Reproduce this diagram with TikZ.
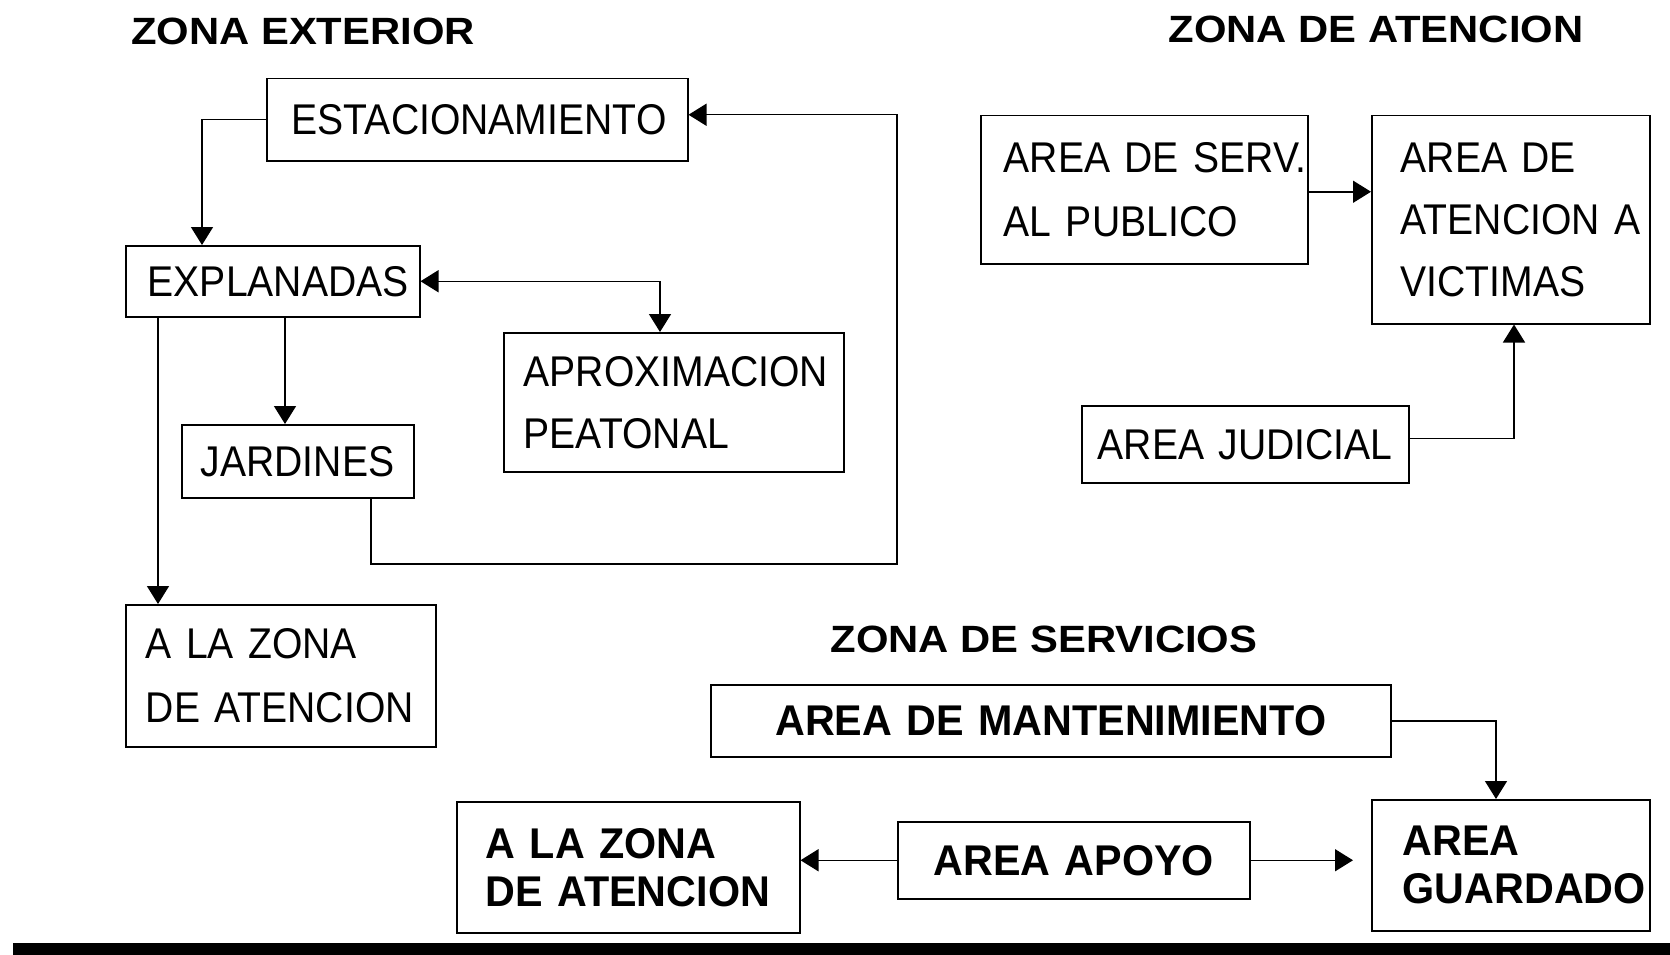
\documentclass[tikz,border=0pt]{standalone}
\usepackage{fontspec}
\usetikzlibrary{arrows.meta}
\newfontfamily\thinf[FakeStretch=0.91]{Liberation Sans}
\newfontfamily\boldf[FakeStretch=0.96]{Liberation Sans}
\newfontfamily\titlef[FakeStretch=1.1]{Liberation Sans}
\begin{document}
\begin{tikzpicture}[x=1pt,y=-1pt,
  box/.style={draw, line width=1.5pt, rectangle, anchor=north west, align=left, inner ysep=0pt},
  thintxt/.style={font=\thinf\fontsize{43}{62}\selectfont},
  boldtxt/.style={font=\boldf\bfseries\fontsize{43}{48}\selectfont},
  ttl/.style={font=\titlef\bfseries\fontsize{38}{44}\selectfont, inner sep=0pt},
  conn/.style={line width=1.5pt},
  arr/.style={conn, -{Triangle[length=18pt,width=22pt]}},
  darr/.style={conn, {Triangle[length=18pt,width=22pt]}-{Triangle[length=18pt,width=22pt]}}]
\useasboundingbox (0,0) rectangle (1670,955);
% titles
\node[ttl] (t1) at (303,31) {ZONA EXTERIOR};
\node[ttl] (t2) at (1376,29) {ZONA DE ATENCION};
\node[ttl] (t3) at (1044,639) {ZONA DE SERVICIOS};
% zona exterior
\node[box, thintxt, minimum width=421pt, minimum height=82pt, inner xsep=25pt, text width=371pt] (est) at (266,78) {ESTACIONAMIENTO};
\node[box, thintxt, minimum width=294pt, minimum height=71pt, inner xsep=22pt, text width=250pt] (expl) at (125,245) {EXPLANADAS};
\node[box, thintxt, minimum width=340pt, minimum height=139pt, inner xsep=20pt, text width=300pt] (aprox) at (503,332) {APROXIMACION\\PEATONAL};
\node[box, thintxt, minimum width=232pt, minimum height=73pt, inner xsep=19pt, text width=194pt] (jard) at (181,424) {JARDINES};
\node[box, thintxt, minimum width=310pt, minimum height=142pt, inner xsep=20pt, text width=270pt, font=\thinf\fontsize{43}{64}\selectfont] (zona1) at (125,604) {A~LA~ZONA\\DE~ATENCION};
% zona de atencion
\node[box, thintxt, minimum width=327pt, minimum height=148pt, inner xsep=23pt, text width=281pt, font=\thinf\fontsize{43}{64}\selectfont] (serv) at (980,115) {AREA~DE~SERV.\\AL~PUBLICO};
\node[box, thintxt, minimum width=278pt, minimum height=208pt, inner xsep=29pt, text width=220pt] (aten) at (1371,115) {AREA~DE\\ATENCION~A\\VICTIMAS};
\node[box, thintxt, minimum width=327pt, minimum height=77pt, inner xsep=16pt, text width=295pt] (jud) at (1081,405) {AREA~JUDICIAL};
% zona de servicios
\node[box, boldtxt, minimum width=680pt, minimum height=72pt, inner xsep=10pt, text width=660pt, align=center] (mant) at (710,684) {AREA DE MANTENIMIENTO};
\node[box, boldtxt, minimum width=278pt, minimum height=131pt, inner xsep=31pt, text width=216pt] (guard) at (1371,799) {AREA\\GUARDADO};
\node[box, boldtxt, minimum width=352pt, minimum height=77pt, inner xsep=10pt, text width=332pt, align=center] (apoyo) at (897,821) {AREA APOYO};
\node[box, boldtxt, minimum width=343pt, minimum height=131pt, inner xsep=29pt, text width=285pt] (zona2) at (456,801) {A~LA~ZONA\\DE~ATENCION};
% connectors
\coordinate (jr) at (897,564);
\draw[arr] (est.west) -| ([xshift=77pt]expl.north west);
\draw[darr] (expl.east) -| ([xshift=157pt]aprox.north west);
\draw[arr] ([xshift=104pt]jard.north west |- expl.south) -- ([xshift=104pt]jard.north west);
\draw[arr] ([xshift=33pt]zona1.north west |- expl.south) -- ([xshift=33pt]zona1.north west);
\draw[arr] ([xshift=190pt]jard.south west) |- (jr) |- ([yshift=5pt]est.east);
\draw[arr] ([yshift=-2pt]serv.east) -- ([yshift=-2pt]serv.east -| aten.west);
\draw[arr] ([yshift=6pt]jud.east) -| ([xshift=143pt]aten.south west);
\draw[arr] (mant.east) -| ([xshift=125pt]guard.north west);
\coordinate (gp) at ([xshift=-18pt]apoyo.east -| guard.west);
\draw[arr] (apoyo.east) -- (gp);
\draw[arr] (apoyo.west) -- (apoyo.west -| zona2.east);
% bottom bar
\fill[black] (13,943) rectangle (1670,955);
\end{tikzpicture}
\end{document}
